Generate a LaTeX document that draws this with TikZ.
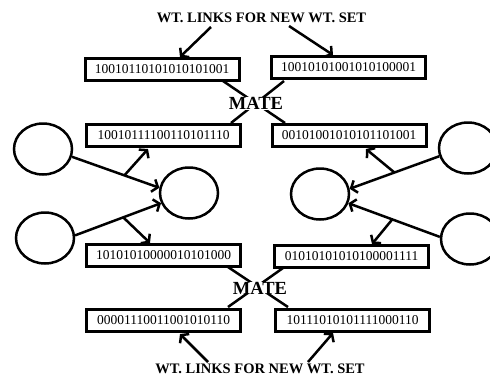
\documentclass[tikz,border=0pt]{standalone}
\usepackage{fontspec}
\setmainfont{Liberation Serif}
\usetikzlibrary{arrows.meta,shapes.geometric}
\begin{document}
\begin{tikzpicture}[x=1pt,y=-1pt,
  binbox/.style={draw,line width=3pt,minimum width=154pt,minimum height=22pt,inner sep=0pt,font=\fontsize{13.5}{14}\selectfont},
  oval/.style={draw,ellipse,line width=2.5pt,minimum width=58pt,minimum height=51pt,inner sep=0pt},
  title/.style={font=\fontsize{14.5}{15}\selectfont\bfseries,inner sep=0pt},
  matetxt/.style={font=\fontsize{18.5}{20}\selectfont\bfseries,inner sep=0pt,fill=white},
  arr/.style={line width=2.5pt,-{Straight Barb[length=5pt,width=13pt]}},
  ln/.style={line width=2.5pt}]
\useasboundingbox (0,0) rectangle (490,376);
% titles
\node[title] (t1) at (261.5,17.5) {WT. LINKS FOR NEW WT. SET};
\node[title] (t2) at (260,369) {WT. LINKS FOR NEW WT. SET};
% boxes
\node[binbox] (b1) at (162,69) {10010110101010101001};
\node[binbox] (b2) at (348.5,67.5) {10010101001010100001};
\node[binbox] (b3) at (163.5,135.5) {10010111100110101110};
\node[binbox] (b4) at (349,135.5) {00101001010101101001};
\node[binbox] (b5) at (163.5,255) {10101010000010101000};
\node[binbox] (b6) at (351.5,256) {01010101010100001111};
\node[binbox] (b7) at (163.5,320.5) {00001110011001010110};
\node[binbox] (b8) at (352.5,320) {10111010101111000110};
% ellipses
\node[oval] (e1) at (43,149) {};
\node[oval] (e2) at (189,193) {};
\node[oval] (e3) at (45,238) {};
\node[oval] (e4) at (320,194) {};
\node[oval] (e5) at (468,148) {};
\node[oval] (e6) at (470,239) {};
% coordinates
\coordinate (t1l) at (211,27); \coordinate (b1t) at (180,57);
\coordinate (t1r) at (289,26); \coordinate (b2t) at (333,55);
\coordinate (t2l) at (208,362); \coordinate (b7b) at (180,334);
\coordinate (t2r) at (308,362); \coordinate (b8b) at (333,333);
\coordinate (b1m) at (223,81); \coordinate (b4m) at (285,123);
\coordinate (b2m) at (284,81); \coordinate (b3m) at (231,123);
\coordinate (b5m) at (228,267); \coordinate (b8m) at (288,307);
\coordinate (b6m) at (283,268); \coordinate (b7m) at (228,307);
\coordinate (b3b) at (148,149); \coordinate (b5t) at (150,243);
\coordinate (b4b) at (366,149); \coordinate (b6t) at (372,244);
% mate crossings
\draw[ln] (b1m) -- (b4m);
\draw[ln] (b2m) -- (b3m);
\draw[ln] (b5m) -- (b8m);
\draw[ln] (b6m) -- (b7m);
\node[matetxt] (m1) at (256,103.5) {MATE};
\node[matetxt] (m2) at (260,288) {MATE};
% title arrows
\draw[arr] (t1l) -- (b1t);
\draw[arr] (t1r) -- (b2t);
\draw[arr] (t2l) -- (b7b);
\draw[arr] (t2r) -- (b8b);
% ellipse arrows
\draw[arr] (e1.-15) -- coordinate[pos=0.6] (p1) (e2.170);
\draw[arr] (e3.5) -- coordinate[pos=0.56] (p2) (e2.200);
\draw[arr] (e5.196) -- coordinate[pos=0.5] (p3) (e4.10);
\draw[arr] (e6.176) -- coordinate[pos=0.52] (p4) (e4.-18);
\draw[arr] (p1) -- (b3b);
\draw[arr] (p2) -- (b5t);
\draw[arr] (p3) -- (b4b);
\draw[arr] (p4) -- (b6t);
\end{tikzpicture}
\end{document}
